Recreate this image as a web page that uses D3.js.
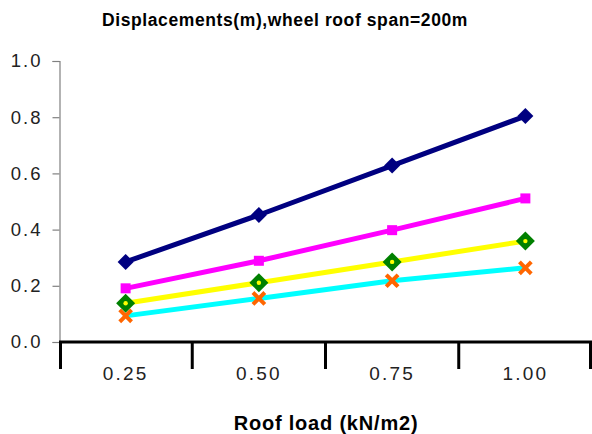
<!DOCTYPE html>
<html>
<head>
<meta charset="utf-8">
<script src="https://cdn.jsdelivr.net/npm/d3@7"></script>
<style>
  html, body { margin: 0; padding: 0; background: #fff; }
  svg { display: block; }
</style>
</head>
<body>
<div id="chart"></div>
<script>
// Roof load categories (kN/m2)
const categories = ["0.25", "0.50", "0.75", "1.00"];
// Displacement series (m)
const seriesA = [0.285, 0.452, 0.628, 0.804];
const seriesB = [0.191, 0.289, 0.398, 0.511];
const seriesC = [0.138, 0.211, 0.285, 0.359];
const seriesD = [0.093, 0.155, 0.218, 0.264];
const yTicks = [0, 0.2, 0.4, 0.6, 0.8, 1.0];

const W = 592, H = 434;
const svg = d3.select("#chart").append("svg").attr("width", W).attr("height", H);

const x = d3.scaleBand().domain(categories).range([59, 592]).paddingInner(0).paddingOuter(0);
const y = d3.scaleLinear().domain([0, 1]).range([342, 61]);

const tickFont = "'Liberation Sans', Arial, sans-serif";

// Title
svg.append("text")
  .attr("x", 285).attr("y", 26)
  .attr("text-anchor", "middle")
  .attr("font-family", tickFont)
  .attr("font-weight", "bold")
  .attr("font-size", 17.5)
  .attr("letter-spacing", 0.6)
  .attr("fill", "#000")
  .text("Displacements(m),wheel roof span=200m");

// Y axis
const yAxis = svg.append("g")
  .attr("transform", "translate(59.5,0)")
  .call(d3.axisLeft(y).tickValues(yTicks).tickFormat(d3.format(".1f")).tickSize(7).tickPadding(10));
yAxis.select(".domain").attr("stroke", "#808080").attr("stroke-width", 1.2);
yAxis.selectAll(".tick line").attr("stroke", "#808080").attr("stroke-width", 1.2);
yAxis.selectAll(".tick text")
  .attr("font-family", tickFont)
  .attr("font-size", 18.5)
  .attr("letter-spacing", 2)
  .attr("fill", "#222");

// X axis: thick baseline with tick marks at category boundaries
const xg = svg.append("g");
xg.append("line")
  .attr("x1", x.range()[0]).attr("x2", x.range()[1])
  .attr("y1", y(0)).attr("y2", y(0))
  .attr("stroke", "#000").attr("stroke-width", 3.2);
const bounds = categories.map(c => x(c)).concat([x(categories[categories.length - 1]) + x.bandwidth()]);
xg.selectAll("line.tk").data(bounds).join("line")
  .attr("class", "tk")
  .attr("x1", d => Math.min(Math.max(d, 60.5), 590.5))
  .attr("x2", d => Math.min(Math.max(d, 60.5), 590.5))
  .attr("y1", y(0)).attr("y2", 369)
  .attr("stroke", "#000").attr("stroke-width", 3);
xg.selectAll("text").data(categories).join("text")
  .attr("x", d => x(d) + x.bandwidth() / 2 + 0)
  .attr("y", 380)
  .attr("text-anchor", "middle")
  .attr("font-family", tickFont)
  .attr("font-size", 19)
  .attr("letter-spacing", 2.2)
  .attr("fill", "#222")
  .text(d => d);

// X axis title
svg.append("text")
  .attr("x", 326).attr("y", 430)
  .attr("text-anchor", "middle")
  .attr("font-family", tickFont)
  .attr("font-weight", "bold")
  .attr("font-size", 20)
  .attr("letter-spacing", 0.8)
  .attr("fill", "#000")
  .text("Roof load (kN/m2)");

const cx = d => x(d) + x.bandwidth() / 2;

const series = [
  { values: seriesD, line: "#00FFFF", marker: "x", mcolor: "#FF6600" },
  { values: seriesC, line: "#FFFF00", marker: "diamondDot", mcolor: "#008000" },
  { values: seriesB, line: "#FF00FF", marker: "square", mcolor: "#FF00FF" },
  { values: seriesA, line: "#000080", marker: "diamond", mcolor: "#000080" }
];

const lineGen = d3.line().x((d, i) => cx(categories[i])).y(d => y(d));

series.forEach(s => {
  const g = svg.append("g");
  g.append("path")
    .datum(s.values)
    .attr("d", lineGen)
    .attr("fill", "none")
    .attr("stroke", s.line)
    .attr("stroke-width", 5);

  const pts = g.selectAll("g.pt").data(s.values).join("g")
    .attr("class", "pt")
    .attr("transform", (d, i) => `translate(${cx(categories[i])},${y(d)})`);

  if (s.marker === "diamond") {
    pts.append("path").attr("d", "M0,-8L8,0L0,8L-8,0Z").attr("fill", s.mcolor);
  } else if (s.marker === "square") {
    pts.append("rect").attr("x", -5).attr("y", -5).attr("width", 10).attr("height", 10).attr("fill", s.mcolor);
  } else if (s.marker === "diamondDot") {
    pts.append("path").attr("d", "M0,-9.5L9.5,0L0,9.5L-9.5,0Z").attr("fill", s.mcolor);
    pts.append("circle").attr("r", 2.2).attr("fill", "#FFFF00");
  } else if (s.marker === "x") {
    pts.append("path").attr("d", "M-4.5,-4.5L4.5,4.5M-4.5,4.5L4.5,-4.5")
      .attr("stroke", s.mcolor).attr("stroke-width", 4).attr("stroke-linecap", "square");
  }
});
</script>
</body>
</html>
